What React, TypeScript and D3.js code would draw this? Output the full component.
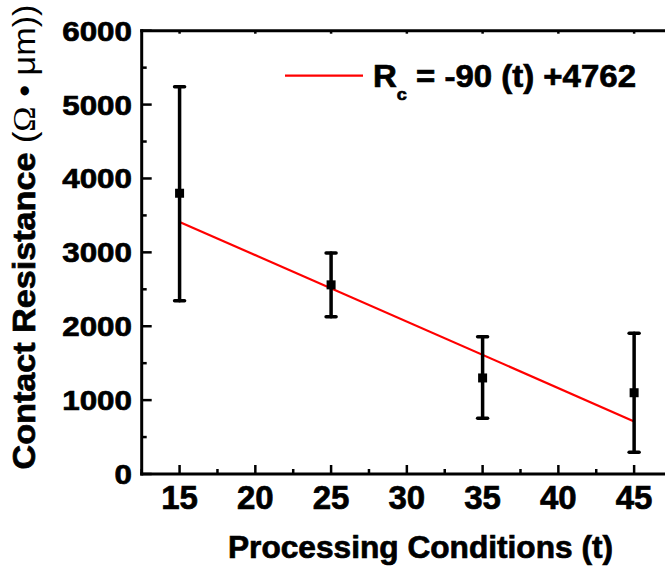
import React from "react";
import * as d3 from "d3";

const tValues = [15, 25, 35, 45];
const resistance = [3800, 2560, 1300, 1100];
const errUpper = [5240, 2990, 1858, 1904];
const errLower = [2345, 2130, 754, 294];
const fitSlope = -90;
const fitIntercept = 4762;
const fitRange = [15, 45];
const xMajorTicks = [15, 20, 25, 30, 35, 40, 45];
const xMinorTicks = [12.5, 17.5, 22.5, 27.5, 32.5, 37.5, 42.5, 47.5];
const yMajorTicks = [0, 1000, 2000, 3000, 4000, 5000, 6000];
const yMinorTicks = [500, 1500, 2500, 3500, 4500, 5500];

const W = 665;
const H = 573;
const FONT = "Liberation Sans, Arial, sans-serif";

const heavy = { stroke: "#000", strokeWidth: 0.7, paintOrder: "stroke" as const };

export default function App() {
  const x = d3.scaleLinear().domain([12.5, 47.5]).range([141.7, 672]);
  const y = d3.scaleLinear().domain([0, 6000]).range([474, 30.7]);
  const [x0, x1] = x.range();
  const [yb, yt] = y.range();
  const line = d3
    .line<number>()
    .x((t) => x(t))
    .y((t) => y(fitSlope * t + fitIntercept));

  return (
    <svg
      width={W}
      height={H}
      style={{ position: "absolute", left: 0, top: 0, background: "#fff" }}
      fontFamily={FONT}
    >
      <rect x={0} y={0} width={W} height={H} fill="#fff" />
      {/* fit line */}
      <path d={line(fitRange) || ""} stroke="#ff0000" strokeWidth={2.2} fill="none" />
      {/* error bars */}
      {tValues.map((t, i) => (
        <g key={"e" + i} stroke="#000" strokeWidth={3.5} strokeLinecap="round">
          <line x1={x(t)} x2={x(t)} y1={y(errUpper[i])} y2={y(errLower[i])} />
          <line x1={x(t) - 5} x2={x(t) + 5} y1={y(errUpper[i])} y2={y(errUpper[i])} />
          <line x1={x(t) - 5} x2={x(t) + 5} y1={y(errLower[i])} y2={y(errLower[i])} />
        </g>
      ))}
      {tValues.map((t, i) => (
        <rect key={"m" + i} x={x(t) - 4.5} y={y(resistance[i]) - 4.5} width={9} height={9} fill="#000" />
      ))}
      {/* axes */}
      <g stroke="#000" strokeWidth={3} fill="none">
        <line x1={x0} x2={x0} y1={yt - 1.5} y2={yb + 1.5} />
        <line x1={x0 - 1.5} x2={x1} y1={yb} y2={yb} />
        <line x1={x0 - 1.5} x2={x1} y1={yt} y2={yt} />
      </g>
      <g stroke="#000" strokeWidth={2.5}>
        {yMajorTicks.map((v) => (
          <line key={"ym" + v} x1={x0} x2={x0 + 10} y1={y(v)} y2={y(v)} />
        ))}
        {yMinorTicks.map((v) => (
          <line key={"yn" + v} x1={x0} x2={x0 + 5} y1={y(v)} y2={y(v)} />
        ))}
        {xMajorTicks.map((v) => (
          <line key={"xm" + v} x1={x(v)} x2={x(v)} y1={yb} y2={yb - 9} />
        ))}
        {xMinorTicks.map((v) => (
          <line key={"xn" + v} x1={x(v)} x2={x(v)} y1={yb} y2={yb - 5} />
        ))}
        {xMajorTicks.map((v) => (
          <line key={"xt" + v} x1={x(v)} x2={x(v)} y1={yt} y2={yt + 3} />
        ))}
      </g>
      {/* tick labels */}
      {yMajorTicks.map((v) => (
        <g key={"yl" + v} transform={`translate(132,${y(v) + 10}) scale(1.12,1)`}>
          <text textAnchor="end" fontSize={28} fontWeight="bold" fill="#000" {...heavy}>
            {v}
          </text>
        </g>
      ))}
      {xMajorTicks.map((v) => (
        <text key={"xl" + v} x={x(v)} y={509} textAnchor="middle" fontSize={33} fontWeight="bold" fill="#000" {...heavy}>
          {v}
        </text>
      ))}
      {/* axis titles */}
      <text
        x={420.5}
        y={558}
        textAnchor="middle"
        fontSize={31}
        fontWeight="bold"
        textLength={385}
        lengthAdjust="spacingAndGlyphs"
        {...heavy}
      >
        Processing Conditions (t)
      </text>
      <text
        transform="translate(35,237) rotate(-90)"
        textAnchor="middle"
        fontSize={31}
        fontWeight="bold"
        textLength={465}
        lengthAdjust="spacingAndGlyphs"
        {...heavy}
      >
        Contact Resistance{" "}
        <tspan fontWeight="normal" strokeWidth={0}>(</tspan>
        <tspan fontWeight="normal" strokeWidth={0} fontFamily="Liberation Serif, serif">Ω</tspan>
        <tspan fontWeight="normal" strokeWidth={0}> • μm))</tspan>
      </text>
      {/* legend */}
      <line x1={285} x2={363} y1={75.7} y2={75.7} stroke="#ff0000" strokeWidth={2.2} />
      <text x={373} y={87.3} fontSize={31} fontWeight="bold" textLength={263} lengthAdjust="spacingAndGlyphs" {...heavy}>
        R<tspan fontSize={17} dy={12.7}>c</tspan>
        <tspan dy={-12.7}> = -90 (t) +4762</tspan>
      </text>
    </svg>
  );
}
